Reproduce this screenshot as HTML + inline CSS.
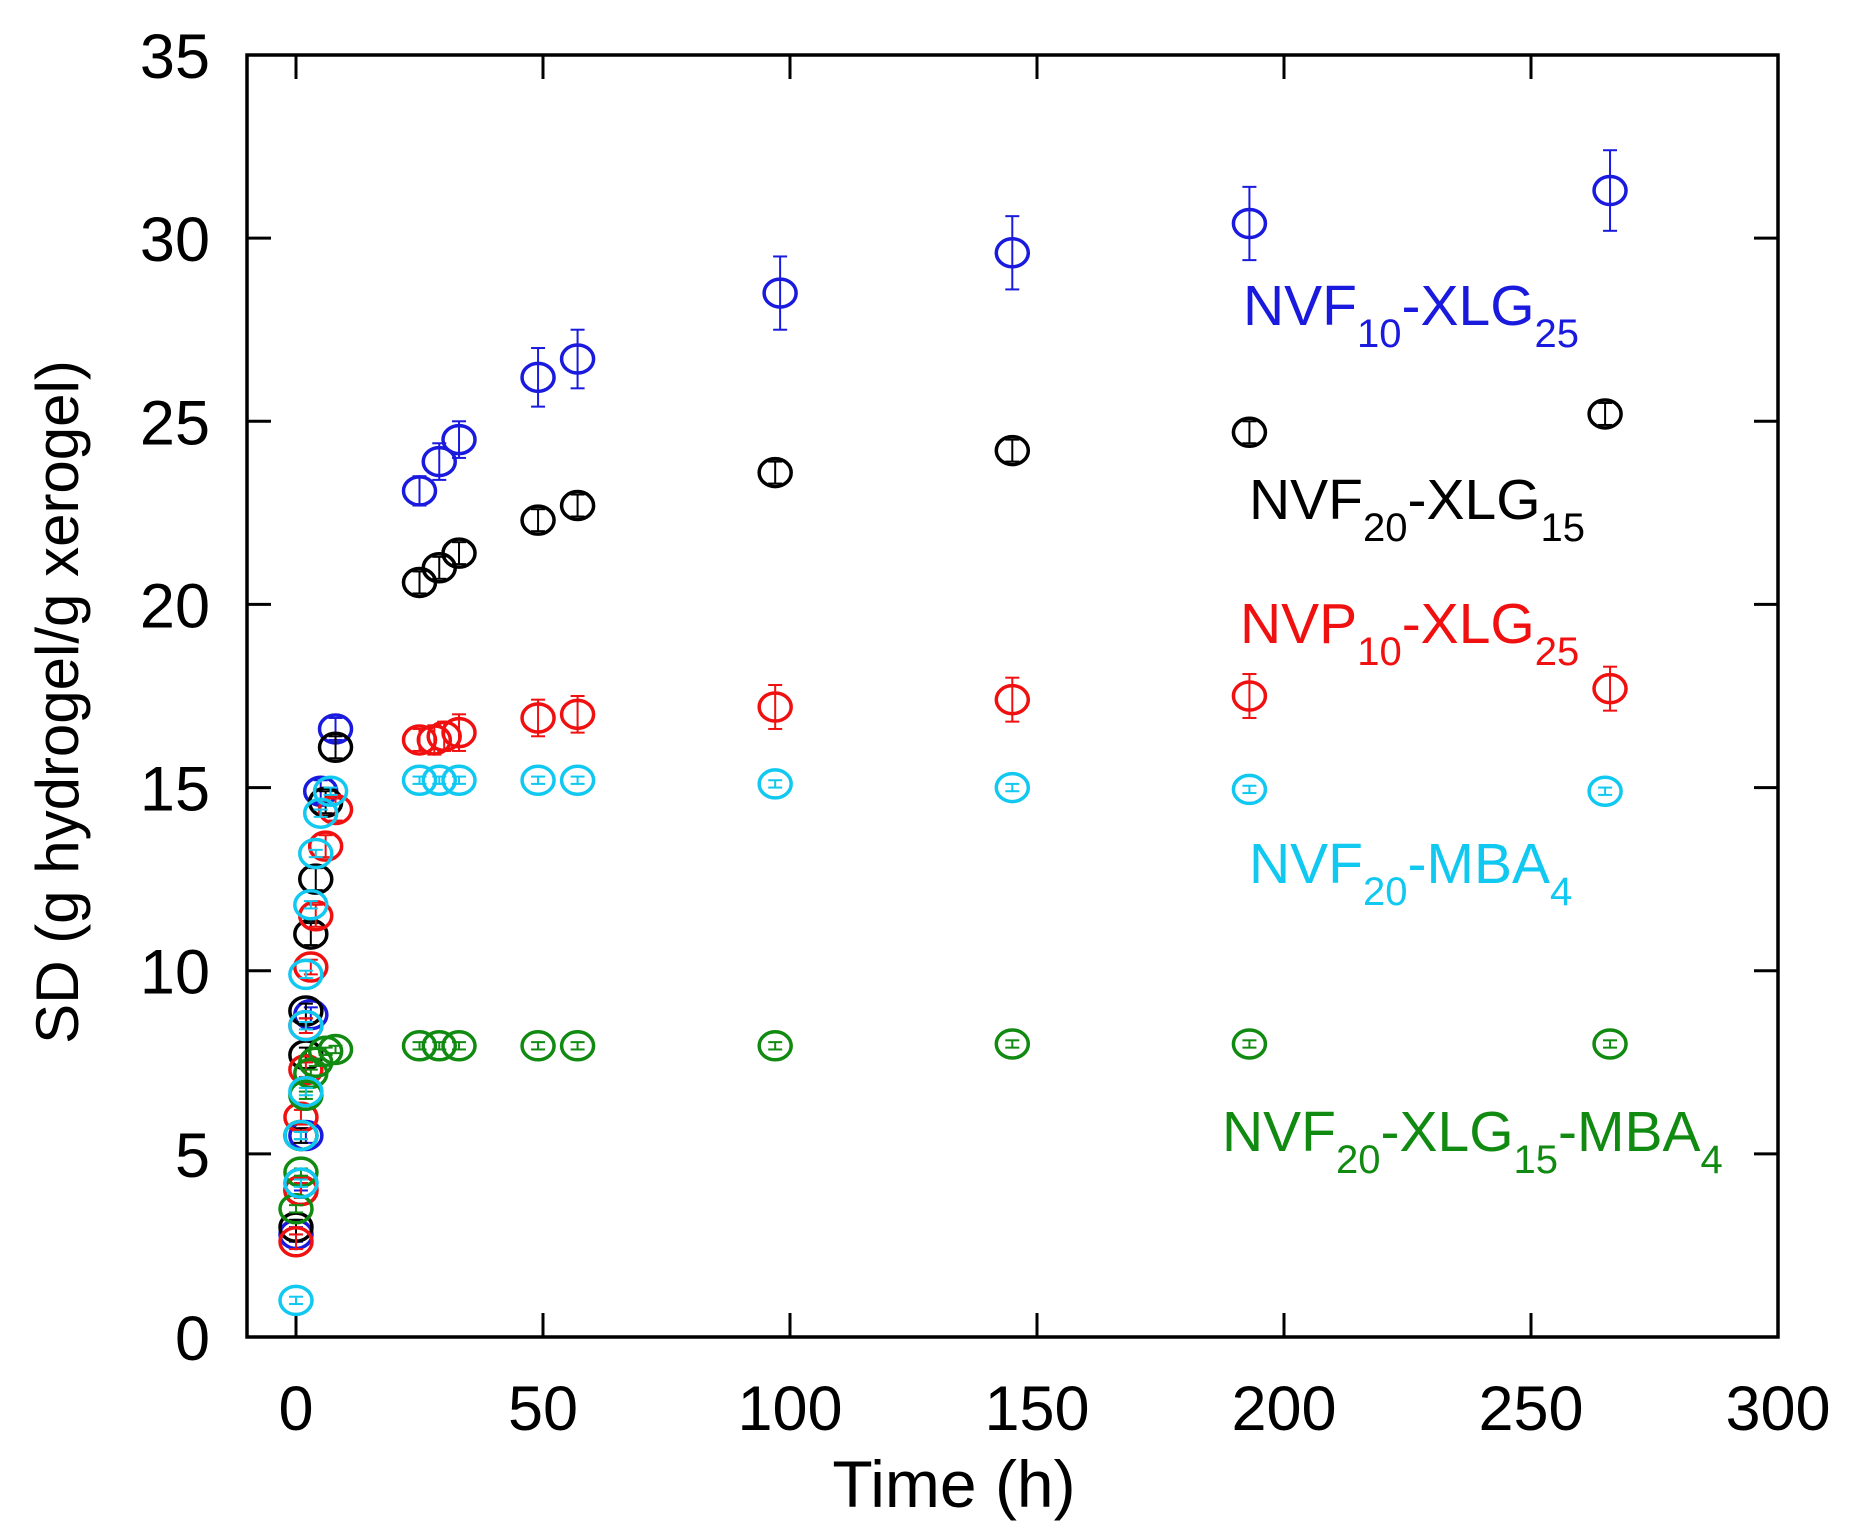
<!DOCTYPE html>
<html><head><meta charset="utf-8">
<style>
html,body{margin:0;padding:0;background:#fff;}
svg{display:block;font-family:"Liberation Sans",Arial,sans-serif;}
</style></head>
<body>
<svg id="chart" width="1851" height="1539" viewBox="0 0 1851 1539">
<g id="axes"></g>
<g id="marks"></g>
<g id="legend">
 <text x="1243" y="325" font-size="57" fill="#1a1adf">NVF<tspan font-size="40" dy="22">10</tspan><tspan dy="-22">-XLG</tspan><tspan font-size="40" dy="22">25</tspan></text>
 <text x="1249" y="519" font-size="57" fill="#000">NVF<tspan font-size="40" dy="22">20</tspan><tspan dy="-22">-XLG</tspan><tspan font-size="40" dy="22">15</tspan></text>
 <text x="1240" y="643" font-size="57" fill="#f01010">NVP<tspan font-size="40" dy="22">10</tspan><tspan dy="-22">-XLG</tspan><tspan font-size="40" dy="22">25</tspan></text>
 <text x="1249" y="883" font-size="57" fill="#10c8f0">NVF<tspan font-size="40" dy="22">20</tspan><tspan dy="-22">-MBA</tspan><tspan font-size="40" dy="22">4</tspan></text>
 <text x="1222" y="1151" font-size="57" fill="#118a11">NVF<tspan font-size="40" dy="22">20</tspan><tspan dy="-22">-XLG</tspan><tspan font-size="40" dy="22">15</tspan><tspan dy="-22">-MBA</tspan><tspan font-size="40" dy="22">4</tspan></text>
</g>
</svg>
<script>
const xTicks=[0,50,100,150,200,250,300];
const yTicks=[0,5,10,15,20,25,30,35];
const blueX=[0,1,2,3,5,8,25,29,33,49,57,98,145,193,266];
const blueY=[2.8,4.2,5.5,8.8,14.9,16.6,23.1,23.9,24.5,26.2,26.7,28.5,29.6,30.4,31.3];
const blueE=[0.2,0.2,0.2,0.2,0.3,0.3,0.4,0.5,0.5,0.8,0.8,1.0,1.0,1.0,1.1];
const blackX=[0,1,1,2,2,3,4,6,8,25,29,33,49,57,97,145,193,265];
const blackY=[3,4,5.5,7.7,8.9,11,12.5,14.6,16.1,20.6,21.0,21.4,22.3,22.7,23.6,24.2,24.7,25.2];
const blackE=[0.2,0.2,0.2,0.2,0.2,0.3,0.3,0.3,0.3,0.3,0.3,0.3,0.3,0.3,0.3,0.3,0.3,0.3];
const redX=[0,1,1,2,2,3,4,6,8,25,28,30,33,49,57,97,145,193,266];
const redY=[2.6,4,6,7.3,8.5,10.1,11.5,13.4,14.4,16.3,16.3,16.4,16.5,16.9,17.0,17.2,17.4,17.5,17.7];
const redE=[0.2,0.2,0.2,0.2,0.2,0.2,0.3,0.3,0.3,0.3,0.4,0.4,0.5,0.5,0.5,0.6,0.6,0.6,0.6];
const cyanX=[0,1,1,2,2,2,3,4,5,7,25,29,33,49,57,97,145,193,265];
const cyanY=[1.0,4.2,5.5,6.7,8.5,9.9,11.8,13.2,14.3,14.9,15.2,15.2,15.2,15.2,15.2,15.1,15.0,14.95,14.9];
const cyanE=[0.1,0.1,0.1,0.1,0.1,0.1,0.1,0.1,0.1,0.1,0.1,0.1,0.1,0.1,0.1,0.1,0.1,0.1,0.1];
const greenX=[0,1,1,2,3,4,6,8,25,29,33,49,57,97,145,193,266];
const greenY=[3.5,4.5,5.5,6.6,7.2,7.5,7.8,7.85,7.95,7.95,7.95,7.95,7.95,7.95,8.0,8.0,8.0];
const greenE=[0.1,0.1,0.1,0.1,0.1,0.1,0.1,0.1,0.1,0.1,0.1,0.1,0.1,0.1,0.1,0.1,0.1];

const L=247,R=1778,T=55,B=1337;
const x0=296,xPer=(1778-296)/300;
function xs(v){return x0+v*xPer;}
function ys(v){return B-(v/35)*(B-T);}
const NS="http://www.w3.org/2000/svg";
function mk(tag,attrs,parent){const e=document.createElementNS(NS,tag);for(const k in attrs)e.setAttribute(k,attrs[k]);parent.appendChild(e);return e;}
const axes=document.getElementById('axes');
const frame=mk('rect',{x:L,y:T,width:R-L,height:B-T,fill:'none',stroke:'#000','stroke-width':3.5},axes);


xTicks.forEach(v=>{
  const x=xs(v);
  const t1=mk('line',{x1:x,y1:B,x2:x,y2:B-24,stroke:'#000','stroke-width':3},axes);
  
  
  const t2=mk('line',{x1:x,y1:T,x2:x,y2:T+24,stroke:'#000','stroke-width':3},axes);
  
  
  const lb=mk('text',{x:x,y:1430,'font-size':63,'text-anchor':'middle',fill:'#000'},axes);
  lb.textContent=v;
  
  
});
yTicks.forEach(v=>{
  const y=ys(v);
  const t1=mk('line',{x1:L,y1:y,x2:L+24,y2:y,stroke:'#000','stroke-width':3},axes);
  
  
  const t2=mk('line',{x1:R,y1:y,x2:R-24,y2:y,stroke:'#000','stroke-width':3},axes);
  
  
  const lb=mk('text',{x:210,y:y+23,'font-size':63,'text-anchor':'end',fill:'#000'},axes);
  lb.textContent=v;
  
  
});
const xt=mk('text',{x:954,y:1507,'font-size':66,'text-anchor':'middle',fill:'#000'},axes);
xt.textContent='Time (h)';


const yt=mk('text',{x:0,y:0,'font-size':60,'text-anchor':'middle',fill:'#000',transform:'translate(78,702) rotate(-90)'},axes);
yt.textContent='SD (g hydrogel/g xerogel)';



const marks=document.getElementById('marks');
function series(X,Y,E,col,name){
  const g=mk('g',{},marks);
  
  
  for(let i=0;i<X.length;i++){
    const cx=xs(X[i]),cy=ys(Y[i]),e=Math.max(E[i]*(B-T)/35,3);
    const p=mk('g',{},g);
    
    
    mk('line',{x1:cx,y1:cy-e,x2:cx,y2:cy+e,stroke:col,'stroke-width':2},p);
    mk('line',{x1:cx-7,y1:cy-e,x2:cx+7,y2:cy-e,stroke:col,'stroke-width':2},p);
    mk('line',{x1:cx-7,y1:cy+e,x2:cx+7,y2:cy+e,stroke:col,'stroke-width':2},p);
    mk('ellipse',{cx:cx,cy:cy,rx:16,ry:14,fill:'none',stroke:col,'stroke-width':3.5},p);
  }
}
series(blueX,blueY,blueE,'#1a1adf','nvf10-xlg25');
series(blackX,blackY,blackE,'#000','nvf20-xlg15');
series(redX,redY,redE,'#f01010','nvp10-xlg25');
series(greenX,greenY,greenE,'#118a11','nvf20-xlg15-mba4');
series(cyanX,cyanY,cyanE,'#10c8f0','nvf20-mba4');
</script>
</body></html>
